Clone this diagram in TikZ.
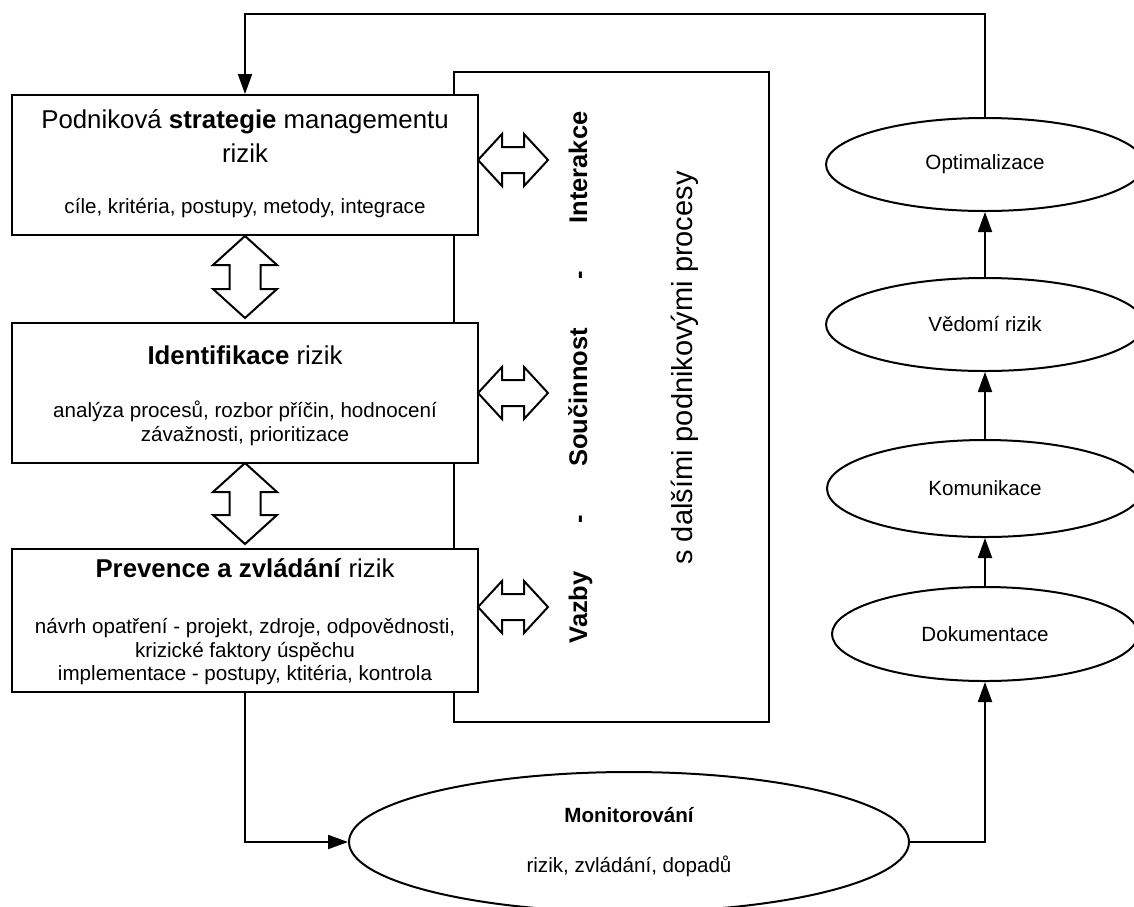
\documentclass[tikz,border=0pt]{standalone}
\usepackage{fontspec}
\setmainfont{Liberation Sans}
\usetikzlibrary{arrows.meta,shapes.geometric}

\newcommand{\ttlsize}{\fontsize{25.8pt}{30pt}\selectfont}
\newcommand{\txtsize}{\fontsize{20.6pt}{24pt}\selectfont}

% vertical double block arrow: centre x, upper tip y, lower tip y
\newcommand{\vdouble}[3]{%
  \draw[dbl] (#1,#2) -- (#1+32,#2+29) -- (#1+15.5,#2+29) -- (#1+15.5,#3-29)
    -- (#1+32,#3-29) -- (#1,#3) -- (#1-32,#3-29) -- (#1-15.5,#3-29)
    -- (#1-15.5,#2+29) -- (#1-32,#2+29) -- cycle;}
% horizontal double block arrow: centre y, left tip x, right tip x
\newcommand{\hdouble}[3]{%
  \draw[dbl] (#2,#1) -- (#2+24,#1-26) -- (#2+24,#1-13) -- (#3-24,#1-13)
    -- (#3-24,#1-26) -- (#3,#1) -- (#3-24,#1+26) -- (#3-24,#1+13)
    -- (#2+24,#1+13) -- (#2+24,#1+26) -- cycle;}

\tikzset{
  box/.style={draw, line width=2pt, fill=white, minimum width=466pt, inner sep=0pt},
  oval/.style={draw, ellipse, line width=2pt, fill=white, inner sep=0pt, font=\txtsize},
  conn/.style={line width=2pt, -{Triangle[length=20pt,width=14pt]}},
  dbl/.style={line width=2pt, fill=white, line join=miter},
  ttl/.style={font=\ttlsize, anchor=base, inner sep=0pt},
  txt/.style={font=\txtsize, anchor=base, inner sep=0pt},
}

\begin{document}
\begin{tikzpicture}[x=1pt,y=-1pt]
\clip (0,0) rectangle (1134,906);

% frame of the cooperation with other processes
\node[draw, line width=2pt, minimum width=315pt, minimum height=650pt, inner sep=0pt] (rel) at (611.5,397) {};

% process boxes
\node[box, minimum height=140pt] (strat) at (245,165) {};
\node[box, minimum height=140pt] (ident) at (245,393) {};
\node[box, minimum height=143pt] (prev) at (245,620.5) {};

\node[ttl] (strat-t1) at (245,128) {Podniková \textbf{strategie} managementu};
\node[ttl] (strat-t2) at (245,162) {rizik};
\node[txt] (strat-s) at (245,213) {cíle, kritéria, postupy, metody, integrace};

\node[ttl] (ident-t) at (245,364) {\textbf{Identifikace} rizik};
\node[txt] (ident-s1) at (245,417) {analýza procesů, rozbor příčin, hodnocení};
\node[txt] (ident-s2) at (245,441) {závažnosti, prioritizace};

\node[ttl] (prev-t) at (245,577) {\textbf{Prevence a zvládání} rizik};
\node[txt] (prev-s1) at (245,633) {návrh opatření - projekt, zdroje, odpovědnosti,};
\node[txt] (prev-s2) at (245,657) {krizické faktory úspěchu};
\node[txt] (prev-s3) at (245,680) {implementace - postupy, ktitéria, kontrola};

% double arrows between the boxes and towards the frame
\vdouble{245}{236}{318}
\vdouble{245}{463}{544}
\hdouble{160}{478}{548}
\hdouble{393}{478}{548}
\hdouble{607}{478}{548}

% rotated labels inside the frame
\node[rotate=90, anchor=base, inner sep=0pt, font=\fontsize{25.5pt}{30pt}\selectfont\bfseries] (links)
  at (587,377.5) {Vazby\hspace{48pt}-\hspace{48pt}Součinnost\hspace{48pt}-\hspace{48pt}Interakce};
\node[rotate=90, anchor=base, inner sep=0pt, font=\fontsize{29pt}{34pt}\selectfont] (procs)
  at (692,368) {s dalšími podnikovými procesy};

% monitoring
\node[draw, ellipse, line width=2pt, minimum width=560pt, minimum height=140pt, inner sep=0pt] (mon) at (629,842) {};
\node[txt, font=\txtsize\bfseries] (mon-t) at (629,822) {Monitorování};
\node[txt] (mon-s) at (629,872) {rizik, zvládání, dopadů};

% feedback chain
\node[oval, minimum width=306pt, minimum height=94pt] (dok) at (985,634) {Dokumentace};
\node[oval, minimum width=316pt, minimum height=97pt] (kom) at (985,488.5) {Komunikace};
\node[oval, minimum width=318pt, minimum height=93pt] (ved) at (985,324.5) {Vědomí rizik};
\node[oval, minimum width=318pt, minimum height=93pt] (opt) at (985,164.5) {Optimalizace};

% connectors
\coordinate (loop) at (985,14);
\draw[conn] (opt.north) -- (loop) -| (strat.north);
\draw[conn] (prev.south) |- (mon.west);
\draw[conn] (mon.east) -| (dok.south);
\draw[conn] (dok.north) -- (kom.south);
\draw[conn] (kom.north) -- (ved.south);
\draw[conn] (ved.north) -- (opt.south);
\end{tikzpicture}
\end{document}
